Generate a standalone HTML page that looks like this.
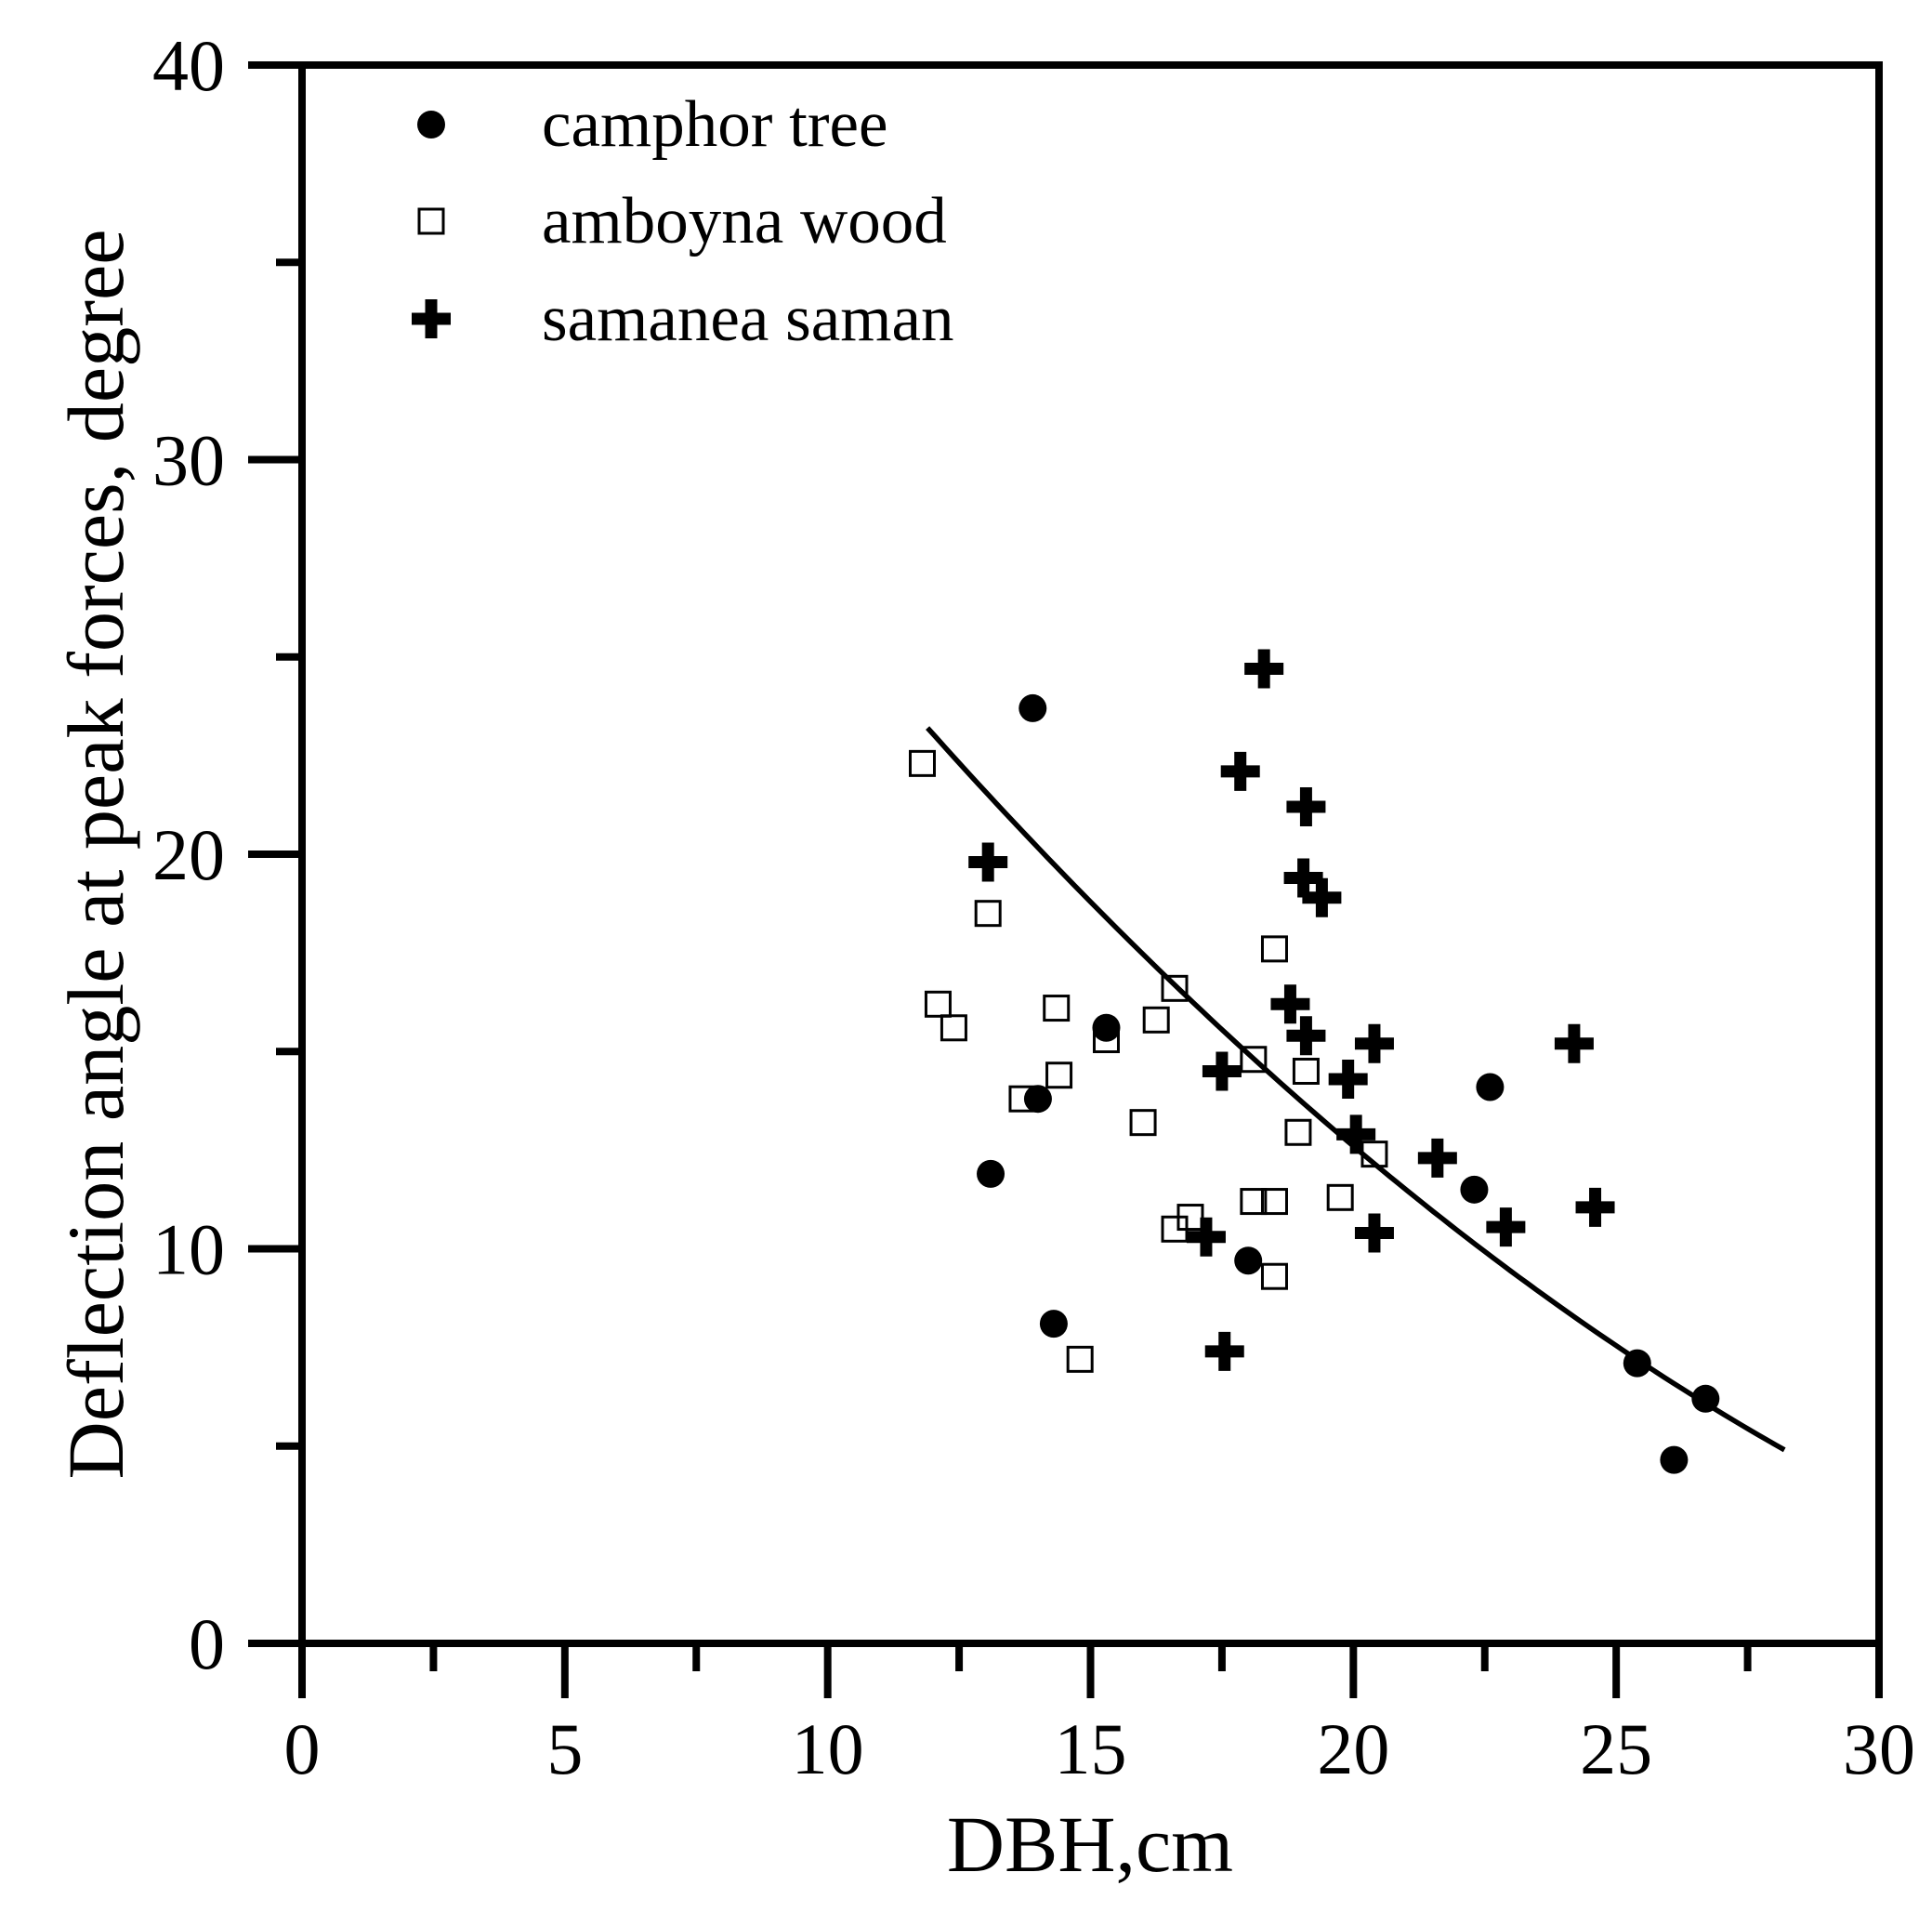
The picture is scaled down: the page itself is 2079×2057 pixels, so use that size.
<!DOCTYPE html>
<html><head><meta charset="utf-8"><style>
html,body{margin:0;padding:0;background:#fff;}
svg{display:block;font-family:"Liberation Serif",serif;}
</style></head><body>
<svg id="chart" width="2079" height="2057" viewBox="0 0 2079 2057" xmlns="http://www.w3.org/2000/svg">
<g id="axes"></g>
<g id="fit"></g>
<g id="marks"></g>
<g id="legend"></g>
<text x="1173" y="2013" font-size="86" text-anchor="middle">DBH,cm</text>
<text transform="translate(132,919) rotate(-90)" font-size="86" text-anchor="middle" textLength="1345" lengthAdjust="spacingAndGlyphs">Deflection angle at peak forces, degree</text>
</svg>
<script>
const xTicks = [0,5,10,15,20,25,30];
const yTicks = [0,10,20,30,40];
const camphorX = [13.9,15.3,14.0,13.1,14.3,18.0,22.6,22.3,25.4,26.7,26.1];
const camphorY = [23.7,15.6,13.8,11.9,8.1,9.7,14.1,11.5,7.1,6.2,4.65];
const amboynaX = [11.8,13.05,12.1,12.4,13.7,14.35,14.4,15.3,14.8,16.0,16.25,16.6,16.6,16.9,18.1,18.5,18.5,18.1,18.5,19.1,18.95,19.75,20.4];
const amboynaY = [22.3,18.5,16.2,15.6,13.8,16.1,14.4,15.3,7.2,13.2,15.8,16.6,10.5,10.8,11.2,11.2,9.3,14.8,17.6,14.5,12.95,11.3,12.4];
const samaneaX = [18.3,17.85,19.1,13.05,19.05,19.4,18.8,19.1,20.4,17.5,19.9,20.05,21.6,24.2,24.6,17.2,20.4,22.9,17.55];
const samaneaY = [24.7,22.1,21.2,19.8,19.4,18.9,16.2,15.4,15.2,14.5,14.3,12.9,12.3,15.2,11.05,10.3,10.4,10.55,7.4];
const fitCoef = [44.17,-2.032,0.02268];
const fitRange = [11.9,28.2];

const NS="http://www.w3.org/2000/svg";
const X0=325,X1=2022,Y0=1768,Y1=70;
const sx=v=>X0+(v-0)/(30-0)*(X1-X0);
const sy=v=>Y0-(v-0)/(40-0)*(Y0-Y1);
function mk(tag,attrs,parent){const e=document.createElementNS(NS,tag);for(const k in attrs)e.setAttribute(k,attrs[k]);parent.appendChild(e);return e;}
const axes=document.getElementById('axes');
let e;
e=mk('rect',{x:X0,y:Y1,width:X1-X0,height:Y0-Y1,fill:'none',stroke:'#000','stroke-width':8},axes);


xTicks.forEach((t,i)=>{
  e=mk('line',{x1:sx(t),x2:sx(t),y1:Y0,y2:Y0+59,stroke:'#000','stroke-width':8},axes);
  
  
  if(i<xTicks.length-1){
    e=mk('line',{x1:sx(t+2.5),x2:sx(t+2.5),y1:Y0,y2:Y0+30,stroke:'#000','stroke-width':8},axes);
    
    
  }
  e=mk('text',{x:sx(t),y:1908,'font-size':78,'text-anchor':'middle'},axes);
  e.textContent=t;
  
  
});
yTicks.forEach((t,i)=>{
  e=mk('line',{x1:X0-58,x2:X0,y1:sy(t),y2:sy(t),stroke:'#000','stroke-width':8},axes);
  
  
  if(i<yTicks.length-1){
    e=mk('line',{x1:X0-28,x2:X0,y1:sy(t+5),y2:sy(t+5),stroke:'#000','stroke-width':8},axes);
    
    
  }
  e=mk('text',{x:242,y:sy(t)+27,'font-size':78,'text-anchor':'end'},axes);
  e.textContent=t;
  
  
});
let d='';
for(let k=0;k<=100;k++){const x=fitRange[0]+(fitRange[1]-fitRange[0])*k/100;const y=fitCoef[0]+fitCoef[1]*x+fitCoef[2]*x*x;d+=(k?'L':'M')+sx(x).toFixed(1)+','+sy(y).toFixed(1);}
e=mk('path',{d:d,fill:'none',stroke:'#000','stroke-width':5.5},document.getElementById('fit'));


const marks=document.getElementById('marks');
function dot(cx,cy,p){return mk('circle',{cx:cx,cy:cy,r:15,fill:'#000'},p);}
function sq(cx,cy,p){return mk('rect',{x:cx-13,y:cy-13,width:26,height:26,fill:'#fff','fill-opacity':0,stroke:'#000','stroke-width':3},p);}
function plus(cx,cy,p){return mk('path',{d:`M${cx-21},${cy-6.5}h14.5v-14.5h13v14.5h14.5v13h-14.5v14.5h-13v-14.5h-14.5z`,fill:'#000'},p);}
amboynaX.forEach((x,i)=>{e=sq(sx(x),sy(amboynaY[i]),marks);
  
  });
camphorX.forEach((x,i)=>{e=dot(sx(x),sy(camphorY[i]),marks);
  
  });
samaneaX.forEach((x,i)=>{e=plus(sx(x),sy(samaneaY[i]),marks);
  
  });
const lg=document.getElementById('legend');
const labels=['camphor tree','amboyna wood','samanea saman'];
const lys=[134,238,343];
[dot,sq,plus].forEach((f,i)=>{
  e=f(464,lys[i],lg);
  
  
  e=mk('text',{x:583,y:lys[i]+23,'font-size':71},lg);
  e.textContent=labels[i];
  
  
});
</script>
</body></html>
